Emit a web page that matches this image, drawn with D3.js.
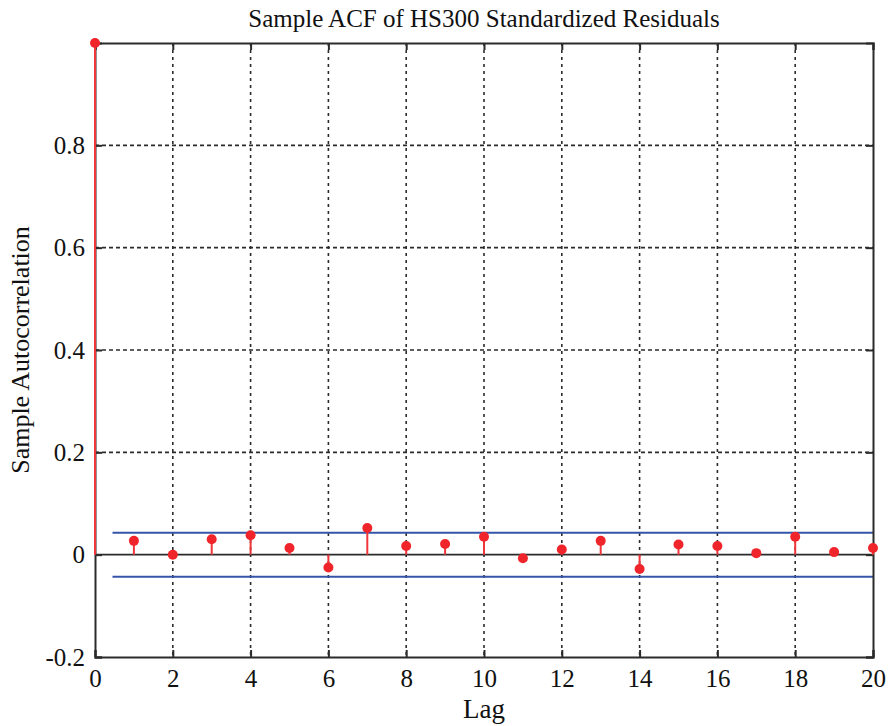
<!DOCTYPE html>
<html>
<head>
<meta charset="utf-8">
<script src="https://cdn.jsdelivr.net/npm/d3@7"></script>
<style>
  body { margin: 0; background: #fff; }
  text { font-family: "Liberation Serif", "Times New Roman", serif; fill: #111; }
</style>
</head>
<body>
<svg id="svg" width="888" height="726"></svg>
<script>
const lags = d3.range(0, 21)
const acf = [1, 0.027, 0.000, 0.030, 0.038, 0.013, -0.025, 0.052, 0.017, 0.021, 0.035,
  -0.007, 0.010, 0.027, -0.028, 0.020, 0.017, 0.003, 0.035, 0.005, 0.013]
const bounds = [0.043, -0.043]
const xTicks = d3.range(0, 21, 2)
const yTicks = [-0.2, 0, 0.2, 0.4, 0.6, 0.8]
const yTickLabels = ['-0.2', '0', '0.2', '0.4', '0.6', '0.8']

const margin = { top: 43, right: 15, bottom: 69, left: 95 }
const width = 888
const height = 726

const xScale = d3.scaleLinear()
  .domain([0, 20])
  .range([margin.left, width - margin.right])

const yScale = d3.scaleLinear()
  .domain([-0.2, 1])
  .range([height - margin.bottom, margin.top])

const svg = d3.select('#svg')
const axisColour = '#2b2b2b'

// grid
svg.append('g')
  .selectAll('line')
  .data(xTicks.filter(d => d > 0 && d < 20))
  .enter()
  .append('line')
  .attr('x1', d => xScale(d)).attr('x2', d => xScale(d))
  .attr('y1', yScale(1)).attr('y2', yScale(-0.2))
  .attr('stroke', axisColour)
  .attr('stroke-width', 1.6)
  .attr('stroke-dasharray', '3,4')

svg.append('g')
  .selectAll('line')
  .data(yTicks.filter(d => d > 0))
  .enter()
  .append('line')
  .attr('x1', xScale(0)).attr('x2', xScale(20))
  .attr('y1', d => yScale(d)).attr('y2', d => yScale(d))
  .attr('stroke', axisColour)
  .attr('stroke-width', 1.6)
  .attr('stroke-dasharray', '4,3')

// zero line
svg.append('line')
  .attr('x1', xScale(0)).attr('x2', xScale(20))
  .attr('y1', yScale(0)).attr('y2', yScale(0))
  .attr('stroke', axisColour)
  .attr('stroke-width', 1.8)

// confidence bounds
svg.append('g')
  .selectAll('line')
  .data(bounds)
  .enter()
  .append('line')
  .attr('x1', xScale(0.45)).attr('x2', xScale(20))
  .attr('y1', d => yScale(d)).attr('y2', d => yScale(d))
  .attr('stroke', '#3555aa')
  .attr('stroke-width', 2)

// axes (ticks inward)
const xAxis = d3.axisBottom(xScale).tickValues(xTicks).tickSize(-7).tickPadding(12).tickFormat(d3.format('d'))
const yAxis = d3.axisLeft(yScale).tickValues(yTicks).tickSize(-7).tickPadding(10)
  .tickFormat((d, i) => yTickLabels[i])

const gx = svg.append('g')
  .attr('transform', `translate(0, ${height - margin.bottom})`)
  .call(xAxis)
const gy = svg.append('g')
  .attr('transform', `translate(${margin.left}, 0)`)
  .call(yAxis)

const gxTop = svg.append('g')
  .attr('transform', `translate(0, ${margin.top})`)
  .call(d3.axisTop(xScale).tickValues(xTicks).tickSize(-7).tickFormat(''))
const gyRight = svg.append('g')
  .attr('transform', `translate(${width - margin.right}, 0)`)
  .call(d3.axisRight(yScale).tickValues(yTicks).tickSize(-7).tickFormat(''))

;[gx, gy, gxTop, gyRight].forEach(g => {
  g.select('.domain').attr('stroke', axisColour).attr('stroke-width', 2)
  g.selectAll('.tick line').attr('stroke', axisColour).attr('stroke-width', 2)
  g.selectAll('.tick text')
    .attr('font-family', '"Liberation Serif", serif')
    .attr('font-size', 25)
    .attr('fill', '#111')
})

// stems
const stems = svg.append('g')
stems.selectAll('line')
  .data(lags)
  .enter()
  .append('line')
  .attr('x1', d => xScale(d)).attr('x2', d => xScale(d))
  .attr('y1', yScale(0)).attr('y2', d => yScale(acf[d]))
  .attr('stroke', '#f0353b')
  .attr('stroke-width', 2)

stems.selectAll('circle')
  .data(lags)
  .enter()
  .append('circle')
  .attr('cx', d => xScale(d))
  .attr('cy', d => yScale(acf[d]))
  .attr('r', 5)
  .attr('fill', '#f0252b')

// labels
svg.append('text')
  .attr('x', (xScale(0) + xScale(20)) / 2)
  .attr('y', 27)
  .attr('text-anchor', 'middle')
  .attr('font-size', 25)
  .text('Sample ACF of HS300 Standardized Residuals')

svg.append('text')
  .attr('x', (xScale(0) + xScale(20)) / 2)
  .attr('y', 718)
  .attr('text-anchor', 'middle')
  .attr('font-size', 27)
  .text('Lag')

svg.append('text')
  .attr('transform', `translate(29, ${(yScale(-0.2) + yScale(1)) / 2}) rotate(-90)`)
  .attr('text-anchor', 'middle')
  .attr('font-size', 26)
  .text('Sample Autocorrelation')
</script>
</body>
</html>
